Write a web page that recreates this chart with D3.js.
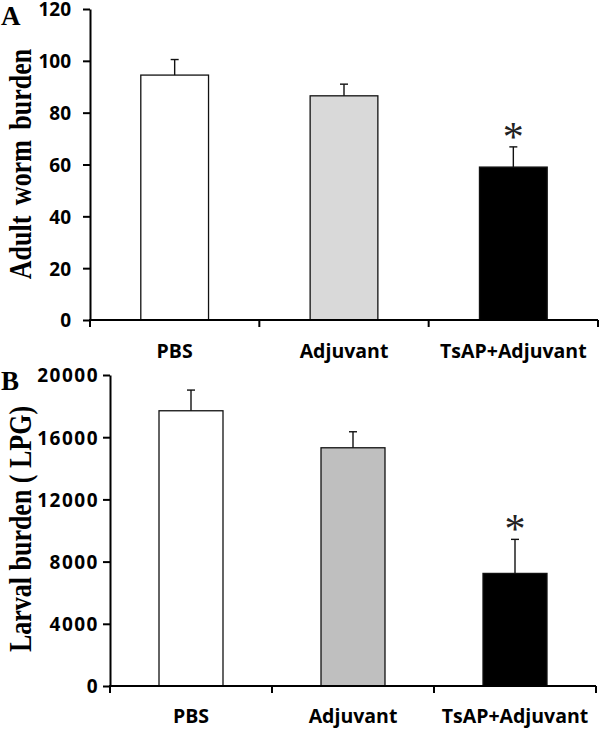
<!DOCTYPE html>
<html>
<head>
<meta charset="utf-8">
<script src="https://cdn.jsdelivr.net/npm/d3@7"></script>
<style>
  body { margin: 0; background: #fff; }
  svg { display: block; }
</style>
</head>
<body>
<div class="chart"></div>
<script>
// Data
const groups = ["PBS", "Adjuvant", "TsAP+Adjuvant"];
const adultMeans = [94.5, 86.5, 59];
const adultErrs = [6, 4.5, 7.8];
const larvalMeans = [17700, 15320, 7240];
const larvalErrs = [1330, 1030, 2190];
const adultTicks = [0, 20, 40, 60, 80, 100, 120];
const larvalTicks = [0, 4000, 8000, 12000, 16000, 20000];
const colorsA = ["#ffffff", "#d9d9d9", "#000000"];
const colorsB = ["#ffffff", "#bfbfbf", "#000000"];
const significant = [false, false, true];

const svg = d3.select(".chart").append("svg")
    .attr("width", 600)
    .attr("height", 730);

function drawPanel(opts) {
    const g = svg.append("g");

    const x = d3.scaleBand()
        .domain(groups)
        .range([opts.left, opts.right])
        .padding(0);

    const y = d3.scaleLinear()
        .domain([0, opts.max])
        .range([opts.bottom, opts.top]);

    const barW = x.bandwidth() * opts.barFrac;

    // bars
    g.selectAll("rect.bar")
        .data(opts.means)
        .enter().append("rect")
        .attr("class", "bar")
        .attr("x", (d, i) => x(groups[i]) + x.bandwidth() / 2 - barW / 2)
        .attr("y", d => y(d))
        .attr("width", barW)
        .attr("height", d => y(0) - y(d))
        .attr("fill", (d, i) => opts.colors[i])
        .attr("stroke", "#111")
        .attr("stroke-width", 1.3);

    // error bars (upper only)
    opts.means.forEach((m, i) => {
        const cx = x(groups[i]) + x.bandwidth() / 2;
        const top = y(m + opts.errs[i]);
        g.append("line")
            .attr("x1", cx).attr("x2", cx)
            .attr("y1", y(m)).attr("y2", top)
            .attr("stroke", "#111")
            .attr("stroke-width", 1.4);
        g.append("line")
            .attr("x1", cx - 4).attr("x2", cx + 4)
            .attr("y1", top).attr("y2", top)
            .attr("stroke", "#111")
            .attr("stroke-width", 1.4);
        if (significant[i]) {
            g.append("text")
                .attr("x", cx)
                .attr("y", top + opts.starDy)
                .attr("text-anchor", "middle")
                .attr("font-family", "Liberation Serif")
                .attr("font-size", 42)
                .attr("fill", "#222")
                .text("*");
        }
    });

    // y axis
    const yAxis = g.append("g")
        .attr("transform", `translate(${opts.left},0)`)
        .call(d3.axisLeft(y)
            .tickValues(opts.ticks)
            .tickFormat(d3.format("d"))
            .tickSize(7)
            .tickPadding(opts.tickPad)
            .tickSizeOuter(0));
    yAxis.select(".domain").attr("stroke", "#000").attr("stroke-width", 2);
    yAxis.selectAll(".tick line").attr("stroke", "#000").attr("stroke-width", 2);
    yAxis.selectAll(".tick text")
        .attr("font-family", "Open Sans")
        .attr("font-weight", "bold")
        .attr("font-size", 19)
        .attr("letter-spacing", opts.tickSpacing)
        .attr("dy", "0.36em")
        .attr("fill", "#000");

    // x axis
    g.append("line")
        .attr("x1", opts.left - 1).attr("x2", opts.right)
        .attr("y1", y(0)).attr("y2", y(0))
        .attr("stroke", "#000")
        .attr("stroke-width", 2);
    const bounds = groups.map(d => x(d)).concat([opts.right]);
    g.selectAll("line.xtick")
        .data(bounds)
        .enter().append("line")
        .attr("class", "xtick")
        .attr("x1", d => d).attr("x2", d => d)
        .attr("y1", y(0)).attr("y2", y(0) + 7)
        .attr("stroke", "#000")
        .attr("stroke-width", 2);
    g.selectAll("text.xlabel")
        .data(groups)
        .enter().append("text")
        .attr("class", "xlabel")
        .attr("x", d => x(d) + x.bandwidth() / 2)
        .attr("y", opts.labelY)
        .attr("text-anchor", "middle")
        .attr("font-family", "Open Sans")
        .attr("font-weight", "bold")
        .attr("font-size", 19.5)
        .text(d => d);

    // y title
    g.append("text")
        .attr("transform", `translate(${opts.titleX},${opts.titleY}) rotate(-90) scale(1,1.2)`)
        .attr("text-anchor", "middle")
        .attr("font-family", "Liberation Serif")
        .attr("font-weight", "bold")
        .attr("font-size", 26)
        .attr("word-spacing", opts.wordSpacing)
        .text(opts.title);

    // panel letter
    g.append("text")
        .attr("x", 1)
        .attr("y", opts.letterY)
        .attr("font-family", "Liberation Serif")
        .attr("font-weight", "bold")
        .attr("font-size", 27)
        .text(opts.letter);
}

drawPanel({
    left: 90, right: 598, top: 9, bottom: 320,
    max: 120, ticks: adultTicks, means: adultMeans, errs: adultErrs,
    colors: colorsA, barFrac: 0.4, tickPad: 12, tickSpacing: 0,
    labelY: 358, title: "Adult worm burden", titleX: 31, titleY: 164,
    wordSpacing: 4, letter: "A", letterY: 25, starDy: 4
});

drawPanel({
    left: 110, right: 596, top: 375, bottom: 686,
    max: 20000, ticks: larvalTicks, means: larvalMeans, errs: larvalErrs,
    colors: colorsB, barFrac: 0.395, tickPad: 4, tickSpacing: 1.5,
    labelY: 723, title: "Larval burden ( LPG)", titleX: 31, titleY: 529,
    wordSpacing: 0, letter: "B", letterY: 390, starDy: 4
});
</script>
</body>
</html>
